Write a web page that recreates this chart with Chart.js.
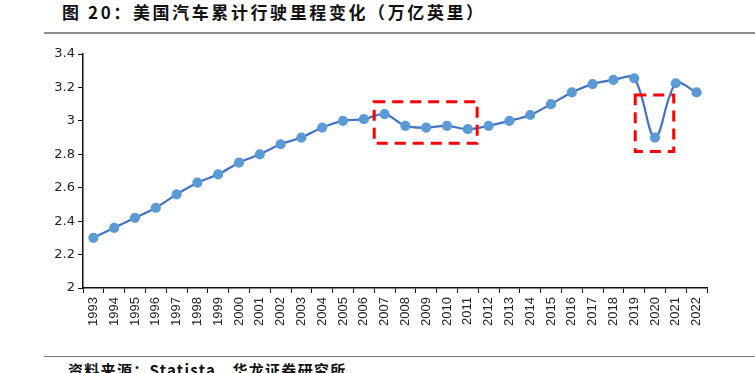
<!DOCTYPE html>
<html>
<head>
<meta charset="utf-8">
<script src="https://cdn.jsdelivr.net/npm/chart.js@4"></script>
<style>
    body { margin: 0; width: 755px; height: 373px; background: #fff; overflow: hidden; position: relative; font-family: "Noto Sans CJK SC", sans-serif; }
    #title { position: absolute; left: 62px; top: 0; font-size: 17px; font-weight: bold; color: #111; letter-spacing: 2.6px; line-height: 24px; }
    #rule-top { position: absolute; left: 44px; top: 32px; width: 711px; height: 2px; background: #8c8c8c; }
    #rule-bottom { position: absolute; left: 44px; top: 356px; width: 711px; height: 1px; background: #777; }
    #source { position: absolute; left: 68px; top: 360px; font-size: 15px; font-weight: bold; color: #111; letter-spacing: 1.3px; line-height: 20px; }
    #wrap { position: absolute; left: 0; top: 40px; width: 755px; height: 305px; }
</style>
</head>
<body>
<div id="title">图 20：美国汽车累计行驶里程变化（万亿英里）</div>
<div id="rule-top"></div>
<div id="wrap"><canvas id="mileage-chart"></canvas></div>
<div id="rule-bottom"></div>
<div id="source">资料来源：Statista，华龙证券研究所</div>
<script>
const years = ['1993','1994','1995','1996','1997','1998','1999','2000','2001','2002',
               '2003','2004','2005','2006','2007','2008','2009','2010','2011','2012',
               '2013','2014','2015','2016','2017','2018','2019','2020','2021','2022'];
const miles = [2.30, 2.36, 2.42, 2.48, 2.56, 2.63, 2.68, 2.75, 2.80, 2.86,
               2.90, 2.96, 3.00, 3.01, 3.04, 2.97, 2.96, 2.97, 2.95, 2.97,
               3.00, 3.035, 3.10, 3.17, 3.22, 3.245, 3.255, 2.90, 3.225, 3.17];
const yTicks = [2, 2.2, 2.4, 2.6, 2.8, 3, 3.2, 3.4];

// highlighted periods, in category index / value units
const boxes = [
    { x0: 13.5, x1: 18.45, y0: 2.866, y1: 3.115 },
    { x0: 26.05, x1: 27.9, y0: 2.816, y1: 3.155 },
];

const dashedBoxes = {
    id: 'dashedBoxes',
    afterDatasetsDraw(chart) {
        const { ctx, scales: { x, y } } = chart;
        const step = x.getPixelForValue(1) - x.getPixelForValue(0);
        ctx.save();
        ctx.strokeStyle = '#ff0000';
        ctx.lineWidth = 3;
        ctx.setLineDash([11, 7]);
        boxes.forEach(b => {
            const left = x.getPixelForValue(0) + b.x0 * step;
            const right = x.getPixelForValue(0) + b.x1 * step;
            const top = y.getPixelForValue(b.y1);
            const bottom = y.getPixelForValue(b.y0);
            ctx.strokeRect(left, top, right - left, bottom - top);
        });
        ctx.restore();
    },
};

new Chart(document.getElementById('mileage-chart'), {
    type: 'line',
    data: {
        labels: years,
        datasets: [{
            data: miles,
            borderColor: '#4472c4',
            borderWidth: 2.2,
            pointBackgroundColor: '#5b9bd5',
            pointBorderColor: '#5b9bd5',
            pointRadius: 4,
            tension: 0.35,
            fill: false,
        }],
    },
    options: {
        responsive: true,
        maintainAspectRatio: false,
        animation: false,
        layout: { padding: { top: 14, right: 48, bottom: 0, left: 0 } },
        plugins: { legend: { display: false }, tooltip: { enabled: false } },
        scales: {
            x: {
                offset: true,
                grid: { offset: true, drawOnChartArea: false, drawTicks: true, tickLength: 5, color: '#111' },
                border: { color: '#111', width: 1.5 },
                ticks: {
                    color: '#222',
                    font: { family: 'Liberation Sans', size: 13 },
                    maxRotation: 90,
                    minRotation: 90,
                    autoSkip: false,
                    padding: 4,
                },
                afterFit: s => { s.height = 57; },
            },
            y: {
                min: 2,
                max: 3.4,
                afterBuildTicks: s => { s.ticks = yTicks.map(v => ({ value: v })); },
                grid: { drawOnChartArea: false, drawTicks: true, tickLength: 5, color: '#111' },
                border: { color: '#111', width: 1.5 },
                ticks: {
                    color: '#222',
                    font: { family: 'DejaVu Sans', size: 13 },
                    padding: 3,
                    callback: v => String(Math.round(v * 10) / 10),
                },
                afterFit: s => { s.width = 83; },
            },
        },
    },
    plugins: [dashedBoxes],
});
</script>
</body>
</html>
